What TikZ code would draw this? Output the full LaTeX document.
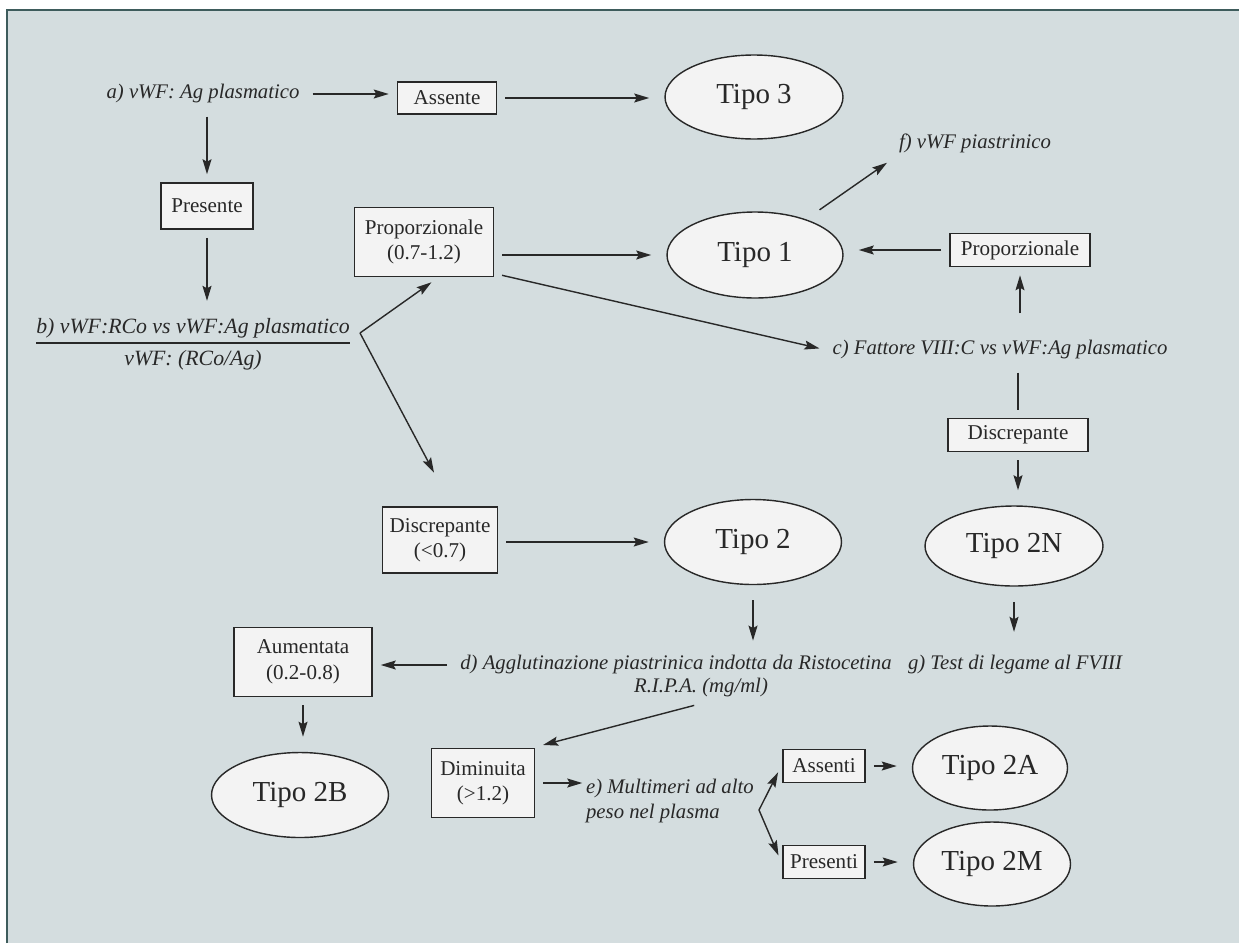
\documentclass[tikz,border=0pt]{standalone}
\usepackage{fontspec}
\setmainfont{Liberation Serif}
\usepackage{tikz}
\usetikzlibrary{arrows.meta}
\usetikzlibrary{shapes.geometric}

\definecolor{sfondo}{RGB}{212,221,223}
\definecolor{cornice}{RGB}{62,92,92}
\definecolor{tratto}{RGB}{40,40,40}
\definecolor{riemp}{RGB}{243,243,243}

\begin{document}
\begin{tikzpicture}[x=0.02cm, y=-0.02cm,
    every node/.style={text=tratto},
    scatola/.style={draw=tratto, line width=1pt, fill=riemp, inner sep=0pt, outer sep=1pt, align=center, font=\fontsize{12}{14.5}\selectfont},
    tipo/.style={ellipse, draw=tratto, line width=0.8pt, fill=riemp, inner sep=0pt, outer sep=5pt, font=\fontsize{16.5}{19}\selectfont},
    domanda/.style={font=\fontsize{11.8}{14}\selectfont\itshape},
    freccia/.style={draw=tratto, line width=0.8pt, -{Stealth[length=3mm, width=1.8mm, inset=0.5mm]}, shorten <=4pt, shorten >=4pt},
    linea/.style={draw=tratto, line width=0.8pt, shorten <=4pt, shorten >=4pt}]

    \useasboundingbox (0,0) rectangle (1239,943);
    \fill[white] (0,0) rectangle (1239,943);
    \fill[sfondo] (7,10) rectangle (1239,943);
    \draw[cornice, line width=1.2pt] (7,943) -- (7,10) -- (1239,10);

    \node[domanda] (agtest) at (203,94) {a) vWF: Ag plasmatico};
    \node[scatola, minimum width=1.98cm, minimum height=0.64cm] (assente) at (447,98) {Assente};
    \node[tipo, minimum width=3.56cm, minimum height=1.68cm] (tipotre) at (754,97) {Tipo 3};
    \node[scatola, minimum width=1.84cm, minimum height=0.92cm] (presente) at (207,206) {Presente};
    \node[domanda, font=\fontsize{12.4}{14}\selectfont\itshape, inner sep=2pt] (rcotest) at (193,343) {\renewcommand{\arraystretch}{1.25}\setlength{\arrayrulewidth}{0.6pt}\begin{tabular}{@{}c@{}}b) vWF:RCo vs vWF:Ag plasmatico\\\hline vWF: (RCo/Ag)\end{tabular}};
    \coordinate (brb) at (360,333);

    \node[scatola, minimum width=2.78cm, minimum height=1.38cm] (propA) at (424,242) {Proporzionale\\(0.7-1.2)};
    \node[tipo, minimum width=3.52cm, minimum height=1.72cm] (tipouno) at (755,255) {Tipo 1};
    \node[domanda] (piastr) at (975,143) {f) vWF piastrinico};
    \node[scatola, minimum width=2.8cm, minimum height=0.66cm] (propB) at (1020,250) {Proporzionale};
    \node[domanda] (fattore) at (1000,350) {c) Fattore VIII:C vs vWF:Ag plasmatico};
    \node[scatola, minimum width=2.8cm, minimum height=0.66cm] (discrB) at (1018,435) {Discrepante};
    \node[tipo, minimum width=3.56cm, minimum height=1.6cm] (tipoN) at (1014,546) {Tipo 2N};
    \node[domanda] (legame) at (1015,665) {g) Test di legame al FVIII};

    \node[scatola, minimum width=2.3cm, minimum height=1.32cm] (discrA) at (440,540) {Discrepante\\(<0.7)};
    \node[tipo, minimum width=3.54cm, minimum height=1.7cm] (tipodue) at (753,542) {Tipo 2};
    \node[domanda] (aggl) at (676,665) {d) Agglutinazione piastrinica indotta da Ristocetina};
    \node[domanda] (aggl2) at (701,688) {R.I.P.A. (mg/ml)};
    \node[scatola, minimum width=2.76cm, minimum height=1.38cm] (aumentata) at (303,662) {Aumentata\\(0.2-0.8)};
    \node[tipo, minimum width=3.54cm, minimum height=1.7cm] (tipoB) at (300,795) {Tipo 2B};
    \node[scatola, minimum width=2.06cm, minimum height=1.38cm] (diminuita) at (483,783) {Diminuita\\(>1.2)};
    \node[domanda, align=left, inner sep=1pt, anchor=west] (multim) at (584,801) {e) Multimeri ad alto\\peso nel plasma};
    \coordinate (bre) at (759,810);
    \node[scatola, minimum width=1.64cm, minimum height=0.66cm] (assenti) at (824,766) {Assenti};
    \node[scatola, minimum width=1.64cm, minimum height=0.66cm] (presenti) at (824,862) {Presenti};
    \node[tipo, minimum width=3.1cm, minimum height=1.68cm] (tipoA) at (990,768) {Tipo 2A};
    \node[tipo, minimum width=3.14cm, minimum height=1.68cm] (tipoM) at (992,864) {Tipo 2M};

    \draw[freccia] (agtest.east) -- (agtest.east -| assente.west);
    \draw[freccia] (assente.east) -- (assente.east -| tipotre.west);
    \draw[freccia] (presente |- agtest.south) -- (presente.north);
    \draw[freccia] (presente.south) -- (presente |- rcotest.north);
    \draw[freccia, shorten <=0pt] (brb) -- (propA.290);
    \draw[freccia, shorten <=0pt, shorten >=21pt] (brb) -- (discrA.72);
    \draw[freccia] (propA.east |- tipouno.west) -- (tipouno.west);
    \draw[freccia] (propA.-24) -- (fattore.west);
    \draw[freccia] (tipouno.35) -- (piastr.south west);
    \draw[freccia] (propB.west) -- (propB.west -| tipouno.east);
    \draw[freccia, shorten <=12pt] (propB.south |- fattore.north) -- (propB.south);
    \draw[linea] (discrB.north |- fattore.south) -- (discrB.north);
    \draw[freccia] (discrB.south) -- (discrB.south |- tipoN.north);
    \draw[freccia, shorten >=10pt] (tipoN.south) -- (tipoN.south |- legame.north);
    \draw[freccia] (discrA.east |- tipodue.west) -- (tipodue.west);
    \draw[freccia, shorten >=5pt] (tipodue.south) -- (tipodue.south |- aggl.north);
    \draw[freccia] (aggl.west) -- (aggl.west -| aumentata.east);
    \draw[freccia] (aumentata.south) -- (aumentata.south |- tipoB.north);
    \draw[freccia] (aggl2.south) -- (diminuita.north east);
    \draw[freccia, shorten >=1pt] (diminuita.east) -- (diminuita.east -| multim.west);
    \draw[freccia, shorten <=0pt] (bre) -- (assenti.west);
    \draw[freccia, shorten <=0pt] (bre) -- (presenti.west);
    \draw[freccia] (assenti.east) -- (assenti.east -| tipoA.west);
    \draw[freccia] (presenti.east) -- (presenti.east -| tipoM.west);
\end{tikzpicture}
\end{document}
